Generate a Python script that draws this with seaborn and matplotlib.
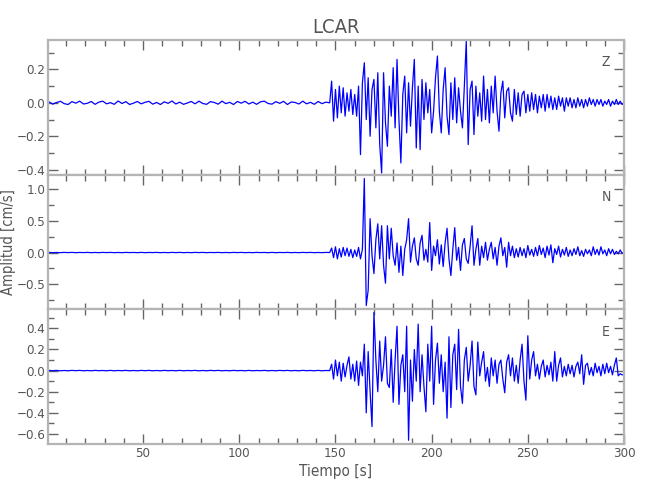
import numpy as np
import pandas as pd
import matplotlib
matplotlib.use("Agg")
import matplotlib.pyplot as plt
from matplotlib.ticker import MultipleLocator
from matplotlib import font_manager
import seaborn as sns

# rejilla de tiempo: ruido previo cada 2 s, evento cada 1 s
t_ruido = np.arange(1, 147, 2)
t_evento = np.arange(147, 301, 1)

# ruido antes del arribo (cm/s)
z_ruido = [0.006, -0.008, 0.002, 0.009, -0.005, -0.010, 0.007, -0.002, 0.010, -0.007,
           -0.003, 0.008, -0.009, 0.004, 0.010, -0.006, 0.001, -0.009, 0.011, -0.004,
           0.007, -0.010, -0.002, 0.008, -0.006, 0.003, 0.009, -0.008, 0.002, -0.010,
           0.006, -0.003, 0.011, -0.007, 0.004, -0.009, -0.001, 0.008, -0.006, 0.010,
           -0.004, -0.009, 0.007, 0.002, -0.008, 0.010, -0.005, 0.003, -0.010, 0.008,
           -0.002, 0.009, -0.007, 0.004, -0.009, 0.006, 0.010, -0.004, -0.008, 0.007,
           -0.003, 0.009, -0.010, 0.005, 0.002, -0.007, 0.010, -0.006, 0.003, -0.009,
           0.008, -0.005, 0.004]
n_ruido = [0.002, -0.002, 0.001, -0.002, 0.002, -0.001, 0.002, -0.002, 0.001, -0.001,
           0.002, -0.002, 0.001, -0.002, 0.002, -0.001, 0.002, -0.002, 0.001, -0.002,
           0.002, -0.001, 0.001, -0.002, 0.002, -0.002, 0.001, -0.001, 0.002, -0.002,
           0.001, -0.002, 0.002, -0.001, 0.002, -0.002, 0.001, -0.002, 0.002, -0.001,
           0.002, -0.002, 0.001, -0.001, 0.002, -0.002, 0.001, -0.002, 0.002, -0.001,
           0.002, -0.002, 0.001, -0.002, 0.002, -0.001, 0.001, -0.002, 0.002, -0.002,
           0.001, -0.001, 0.002, -0.002, 0.001, -0.002, 0.002, -0.001, 0.002, -0.002,
           0.001, -0.002, 0.002]
e_ruido = [0.002, -0.001, 0.002, -0.002, 0.001, -0.002, 0.002, -0.001, 0.002, -0.002,
           0.001, -0.002, 0.002, -0.001, 0.001, -0.002, 0.002, -0.002, 0.001, -0.001,
           0.002, -0.002, 0.001, -0.002, 0.002, -0.001, 0.002, -0.002, 0.001, -0.002,
           0.002, -0.001, 0.001, -0.002, 0.002, -0.002, 0.001, -0.001, 0.002, -0.002,
           0.001, -0.002, 0.002, -0.001, 0.002, -0.002, 0.001, -0.002, 0.002, -0.001,
           0.001, -0.002, 0.002, -0.002, 0.001, -0.001, 0.002, -0.002, 0.001, -0.002,
           0.002, -0.001, 0.002, -0.002, 0.001, -0.002, 0.002, -0.001, 0.001, -0.002,
           0.002, -0.002, 0.001]

# evento, 147 s a 300 s
z_evento = [0.00, 0.13, -0.11, 0.08, -0.09, 0.10, -0.06, 0.09, -0.08, 0.06,
            -0.05, 0.08, -0.07, 0.05, -0.08, 0.10, -0.31, 0.12, 0.24, -0.10,
            0.15, -0.20, 0.08, 0.14, -0.15, 0.18, -0.25, -0.42, 0.18, -0.12,
            -0.26, 0.10, -0.08, 0.21, -0.15, 0.26, -0.10, -0.36, 0.05, 0.16,
            -0.18, 0.12, -0.14, 0.09, 0.26, -0.27, 0.10, -0.28, 0.14, -0.10,
            0.12, -0.06, 0.08, -0.18, -0.05, 0.15, 0.28, -0.05, -0.18, 0.08,
            0.21, -0.08, -0.19, 0.12, -0.10, 0.15, -0.12, 0.09, -0.05, -0.15,
            0.10, 0.37, -0.25, 0.08, 0.13, -0.19, 0.10, -0.08, 0.06, -0.11,
            0.16, -0.10, 0.08, -0.12, 0.10, -0.06, 0.16, -0.05, -0.17, 0.06,
            0.13, -0.09, 0.07, 0.09, -0.06, -0.11, 0.08, -0.07, 0.06, -0.08,
            0.05, 0.07, -0.06, 0.05, -0.05, 0.06, -0.04, 0.05, -0.06, 0.04,
            -0.03, 0.05, -0.05, 0.05, -0.03, 0.04, -0.04, 0.03, -0.04, 0.04,
            -0.02, 0.03, -0.05, 0.03, -0.02, 0.03, -0.03, 0.02, -0.03, 0.03,
            -0.02, 0.02, -0.03, 0.02, -0.02, 0.03, -0.01, 0.02, -0.02, 0.02,
            -0.01, 0.02, -0.02, 0.01, -0.01, 0.02, -0.02, 0.01, -0.01, 0.02,
            -0.01, 0.01, -0.01, 0.00]
n_evento = [0.00, 0.07, -0.08, 0.09, -0.10, 0.06, -0.07, 0.08, -0.05, 0.07,
            -0.06, 0.05, -0.08, 0.04, -0.06, 0.08, -0.10, 0.05, 1.16, -0.83,
            -0.59, 0.53, -0.05, -0.33, 0.20, 0.45, -0.10, 0.42, -0.20, -0.48,
            0.42, -0.10, 0.38, -0.05, -0.20, 0.15, -0.31, 0.10, -0.36, 0.05,
            0.20, 0.53, -0.15, 0.10, 0.23, -0.10, -0.20, 0.15, 0.27, -0.12,
            0.05, -0.15, 0.47, -0.28, 0.10, -0.05, 0.20, -0.18, 0.12, -0.22,
            0.15, 0.38, -0.10, -0.36, 0.05, 0.39, -0.12, 0.08, -0.28, 0.12,
            0.22, -0.10, -0.17, 0.10, 0.42, -0.20, 0.05, 0.22, -0.20, 0.10,
            -0.08, 0.16, -0.12, 0.05, 0.16, -0.10, 0.08, -0.20, 0.10, 0.23,
            -0.05, 0.08, -0.23, 0.16, -0.05, 0.10, -0.08, 0.06, -0.07, 0.08,
            -0.05, 0.06, -0.08, 0.11, -0.04, 0.05, -0.06, 0.08, -0.05, 0.11,
            -0.03, 0.07, -0.08, 0.10, -0.04, 0.12, -0.16, 0.06, -0.03, 0.10,
            -0.07, 0.05, -0.04, 0.08, -0.06, 0.04, -0.05, 0.06, -0.03, 0.09,
            -0.05, 0.03, -0.06, 0.05, -0.02, 0.04, -0.05, 0.09, -0.03, 0.05,
            -0.04, 0.09, -0.02, 0.04, -0.05, 0.06, -0.02, 0.05, -0.03, 0.02,
            -0.02, 0.04, -0.01, 0.00]
e_evento = [0.00, 0.06, -0.08, 0.10, -0.05, 0.08, -0.10, 0.07, -0.06, 0.05,
            0.13, -0.08, 0.06, -0.10, 0.09, -0.14, 0.08, -0.05, 0.25, -0.40,
            0.18, -0.20, -0.53, 0.55, 0.10, -0.20, 0.28, -0.10, 0.05, 0.32,
            -0.12, -0.16, 0.20, -0.30, 0.10, 0.42, -0.32, 0.05, 0.15, -0.20,
            0.42, -0.66, 0.10, -0.29, 0.20, -0.10, 0.44, -0.20, 0.15, -0.15,
            -0.39, 0.25, -0.10, 0.42, -0.32, 0.10, 0.26, -0.12, 0.15, -0.20,
            0.08, -0.45, 0.32, -0.35, 0.15, 0.25, -0.18, 0.39, -0.15, -0.31,
            0.10, 0.22, -0.10, 0.05, 0.28, -0.15, -0.23, 0.27, -0.05, 0.08,
            0.18, -0.10, 0.03, -0.15, 0.12, -0.05, 0.10, -0.12, 0.06, 0.10,
            -0.08, -0.21, 0.08, 0.15, -0.05, 0.12, -0.10, 0.05, -0.12, 0.10,
            0.25, -0.10, -0.28, 0.33, -0.08, 0.10, 0.18, -0.05, 0.06, -0.08,
            0.04, 0.10, -0.06, 0.05, -0.04, 0.08, -0.10, 0.18, -0.10, 0.05,
            0.12, -0.06, 0.04, -0.05, 0.06, -0.03, 0.05, -0.06, 0.04, 0.08,
            -0.03, 0.15, -0.13, 0.05, 0.07, -0.04, 0.03, -0.05, 0.07, -0.02,
            0.04, -0.05, 0.06, -0.03, 0.07, -0.02, 0.04, -0.04, 0.05, 0.12,
            -0.05, -0.03, -0.04, -0.04]

componentes = ["Z", "N", "E"]
trazas = {"Z": z_ruido + z_evento, "N": n_ruido + n_evento, "E": e_ruido + e_evento}
tiempo = np.concatenate([t_ruido, t_evento])

# limites y pasos de ticks por componente
ylims = {"Z": (-0.43, 0.376), "N": (-0.89, 1.22), "E": (-0.695, 0.58)}
ypasos = {"Z": (0.2, 0.1), "N": (0.5, 0.25), "E": (0.2, 0.1)}

sns.set_style("ticks")
# buscar una fuente estrecha entre las instaladas
nombres = {f.name for f in font_manager.fontManager.ttflist}
estrecha = [n for n in ["Liberation Sans Narrow", "DejaVu Sans Condensed"] if n in nombres]
plt.rcParams["font.family"] = estrecha + ["DejaVu Sans"]
plt.rcParams["font.stretch"] = "condensed"
gris = "#555555"

fig, axes = plt.subplots(3, 1, figsize=(6.5, 5), dpi=100, sharex=True)
fig.subplots_adjust(left=0.074, right=0.96, top=0.92, bottom=0.112, hspace=0)

for ax, comp in zip(axes, componentes):
    df = pd.DataFrame({"t": tiempo, "v": trazas[comp]})
    sns.lineplot(data=df, x="t", y="v", ax=ax, color="#0000ff", lw=0.9,
                 estimator=None, sort=False)
    ax.set_xlim(0.6, 300)
    ax.set_ylim(*ylims[comp])
    ax.xaxis.set_major_locator(MultipleLocator(50))
    ax.xaxis.set_minor_locator(MultipleLocator(10))
    ax.yaxis.set_major_locator(MultipleLocator(ypasos[comp][0]))
    ax.yaxis.set_minor_locator(MultipleLocator(ypasos[comp][1]))
    ax.tick_params(which="both", direction="in", top=True, right=True,
                   color="#666666", labelcolor=gris, labelsize=9.5)
    ax.tick_params(which="major", length=7, width=1, pad=2)
    ax.tick_params(which="minor", length=4, width=1)
    for s in ax.spines.values():
        s.set_color("#b4b4b4")
        s.set_linewidth(1.6)
    ax.set_xlabel("")
    ax.set_ylabel("")
    ax.text(0.969, 0.835, comp, transform=ax.transAxes, ha="center", va="center",
            color=gris, fontsize=10)

axes[0].set_title("LCAR", color=gris, fontsize=14.5, pad=5)
axes[1].set_ylabel("Amplitud [cm/s]", color=gris, fontsize=10.5)
axes[1].yaxis.set_label_coords(-0.056, 0.5)
axes[2].set_xlabel("Tiempo [s]", color=gris, fontsize=11, labelpad=3)

fig.savefig("out.png", dpi=100)
